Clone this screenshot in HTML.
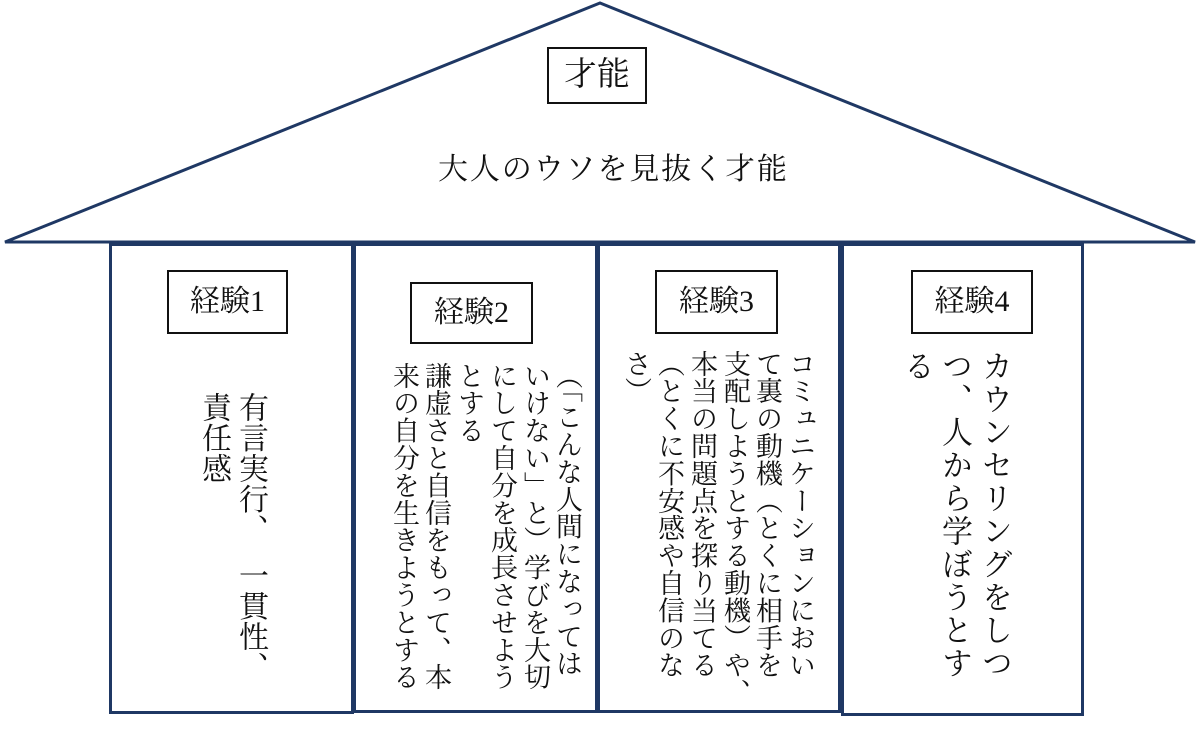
<!DOCTYPE html>
<html><head><meta charset="utf-8"><style>
body{margin:0;width:1200px;height:733px;background:#fff;position:relative;overflow:hidden;font-family:"Liberation Serif","Noto Serif CJK JP","Noto Serif CJK SC",serif;color:#111}
.col{position:absolute;border:3px solid #1f3864;box-sizing:border-box;top:243px}
.lbl{position:absolute;border:2px solid #111;box-sizing:border-box;background:#fff;font-size:30px;text-align:center}
.v{position:absolute;writing-mode:vertical-rl;white-space:nowrap;line-height:1}
.m{font-size:27px;letter-spacing:0.4px}
</style></head><body>
<svg width="1200" height="733" style="position:absolute;left:0;top:0">
<polygon points="5,242 600,3 1195,242" fill="#fff" stroke="#1f3864" stroke-width="3"/>
</svg>
<div class="col" style="left:109px;width:245px;height:471px"></div>
<div class="col" style="left:353px;width:245px;height:470px"></div>
<div class="col" style="left:597px;width:244px;height:470px"></div>
<div class="col" style="left:841px;width:243px;height:473px"></div>

<div class="lbl" style="left:547px;top:47px;width:100px;height:57px;line-height:53px;font-size:33px">才能</div>
<div style="position:absolute;left:438px;top:150px;font-size:30px;letter-spacing:1.9px;line-height:40px">大人のウソを見抜く才能</div>

<div class="lbl" style="left:167px;top:270px;width:121px;height:64px;line-height:60px">経験1</div>
<div class="lbl" style="left:410px;top:282px;width:123px;height:62px;line-height:58px">経験2</div>
<div class="lbl" style="left:655px;top:270px;width:123px;height:64px;line-height:60px">経験3</div>
<div class="lbl" style="left:911px;top:270px;width:122px;height:64px;line-height:60px">経験4</div>

<div class="v" style="left:235px;top:392px;font-size:30px;letter-spacing:0.5px">有言実行、　一貫性、</div>
<div class="v" style="left:198px;top:392px;font-size:30px;letter-spacing:0.5px">責任感</div>

<div class="v m" style="left:553px;top:362px">（「こんな人間になっては</div>
<div class="v m" style="left:521px;top:362px">いけない」と）学びを大切</div>
<div class="v m" style="left:488px;top:362px">にして自分を成長させよう</div>
<div class="v m" style="left:455px;top:362px">とする</div>
<div class="v m" style="left:422px;top:362px">謙虚さと自信をもって、本</div>
<div class="v m" style="left:390px;top:362px">来の自分を生きようとする</div>

<div class="v m" style="left:786px;top:350px">コミュニケーションにおい</div>
<div class="v m" style="left:753px;top:350px">て裏の動機（とくに相手を</div>
<div class="v m" style="left:721px;top:350px">支配しようとする動機）や、</div>
<div class="v m" style="left:688px;top:350px">本当の問題点を探り当てる</div>
<div class="v m" style="left:655px;top:350px">（とくに不安感や自信のな</div>
<div class="v m" style="left:622px;top:350px">さ）</div>

<div class="v" style="left:979px;top:350px;font-size:31px;letter-spacing:2px">カウンセリングをしつ</div>
<div class="v" style="left:939px;top:350px;font-size:31px;letter-spacing:2px">つ、人から学ぼうとす</div>
<div class="v" style="left:901px;top:350px;font-size:31px;letter-spacing:2px">る</div>
</body></html>
